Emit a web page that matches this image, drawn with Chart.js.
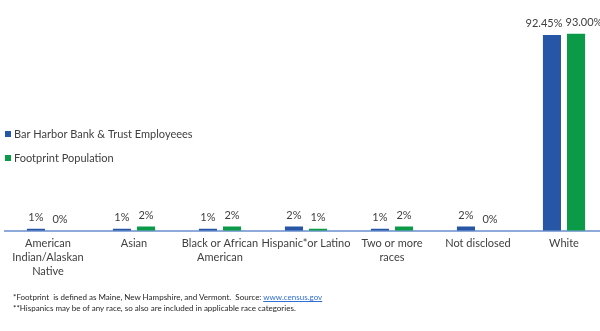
<!DOCTYPE html>
<html>
<head>
<meta charset="utf-8">
<script src="https://cdn.jsdelivr.net/npm/chart.js@4.4.1/dist/chart.umd.min.js"></script>
<style>
  html, body { margin: 0; padding: 0; background: #fff; }
  body { width: 600px; height: 331px; overflow: hidden; position: relative; font-family: Lato, "Liberation Sans", sans-serif; }
  #wrap { position: absolute; left: 0; top: 0; width: 607px; height: 331px; }
  .notes { position: absolute; left: 13px; top: 292px; font-size: 8px; line-height: 11px; color: #262626; white-space: pre; }
  .notes a { color: #2f6fd6; text-decoration: underline; }
</style>
</head>
<body>
<div id="wrap"><canvas id="raceChart" width="607" height="331"></canvas></div>
<div class="notes">*Footprint  is defined as Maine, New Hampshire, and Vermont.  Source: <a href="#">www.census.gov</a>
**Hispanics may be of any race, so also are included in applicable race categories.</div>
<script>
const categories = [
  ["American", "Indian/Alaskan", "Native"],
  "Asian",
  ["Black or African", "American"],
  "Hispanic*or Latino",
  ["Two or more", "races"],
  "Not disclosed",
  "White"
];
const seriesNames = ["Bar Harbor Bank & Trust Employeees", "Footprint Population"];
const employees = [1, 1, 1, 2, 1, 2, 92.45];
const footprint = [0, 2, 2, 1, 2, 0, 93.00];

const BLUE = "#2756a6";
const GREEN = "#0b9a48";
const TEXT = "#404040";
const FONT = "Lato, 'Liberation Sans', sans-serif";

function formatPct(v) {
  return (v >= 10 ? v.toFixed(2) : v.toFixed(0)) + "%";
}

// value labels above each bar; labels in the same group are pushed apart if they collide
const barLabels = {
  id: "barLabels",
  afterDatasetsDraw(chart) {
    const ctx = chart.ctx;
    ctx.save();
    ctx.font = "11px " + FONT;
    ctx.fillStyle = TEXT;
    ctx.textAlign = "center";
    ctx.textBaseline = "bottom";
    const metaA = chart.getDatasetMeta(0).data;
    const metaB = chart.getDatasetMeta(1).data;
    chart.data.labels.forEach((_, j) => {
      const a = formatPct(chart.data.datasets[0].data[j]);
      const b = formatPct(chart.data.datasets[1].data[j]);
      let xa = metaA[j].x, xb = metaB[j].x;
      const need = (ctx.measureText(a).width + ctx.measureText(b).width) / 2 + 3;
      const overlap = need - (xb - xa);
      if (overlap > 0) {
        xa -= overlap / 2;
        xb += overlap / 2;
      }
      ctx.fillText(a, xa, metaA[j].y - 6);
      ctx.fillText(b, xb, metaB[j].y - 6);
    });
    ctx.restore();
  }
};

// legend sits on the left, over the plot
const sideLegend = {
  id: "sideLegend",
  afterDraw(chart) {
    const ctx = chart.ctx;
    ctx.save();
    ctx.font = "11px " + FONT;
    ctx.textBaseline = "middle";
    chart.data.datasets.forEach((ds, i) => {
      const y = 134 + i * 24;
      ctx.fillStyle = ds.backgroundColor;
      ctx.fillRect(5, y - 3, 6, 6);
      ctx.fillStyle = TEXT;
      ctx.fillText(ds.label, 14, y);
    });
    ctx.restore();
  }
};

new Chart(document.getElementById("raceChart"), {
  type: "bar",
  data: {
    labels: categories,
    datasets: [
      { label: seriesNames[0], data: employees, backgroundColor: BLUE },
      { label: seriesNames[1], data: footprint, backgroundColor: GREEN }
    ]
  },
  options: {
    responsive: false,
    animation: false,
    layout: { padding: { left: 5, right: 0, top: 19, bottom: 55 } },
    categoryPercentage: 0.56,
    barPercentage: 0.75,
    plugins: { legend: { display: false }, tooltip: { enabled: false } },
    scales: {
      x: {
        grid: { display: false },
        border: { display: true, color: "#8eaadb", width: 2 },
        ticks: {
          color: TEXT,
          padding: -2,
          maxRotation: 0,
          autoSkip: false,
          font: { family: FONT, size: 11, lineHeight: 1.25 }
        }
      },
      y: { display: false, min: 0, max: 100 }
    }
  },
  plugins: [barLabels, sideLegend]
});
</script>
</body>
</html>
